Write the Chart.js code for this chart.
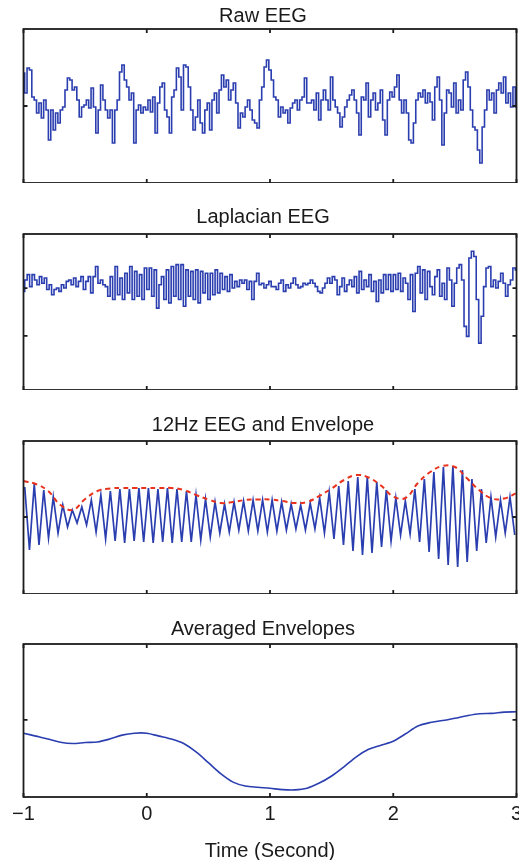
<!DOCTYPE html>
<html>
<head>
<meta charset="utf-8">
<script src="https://cdn.jsdelivr.net/npm/chart.js@4.4.0/dist/chart.umd.min.js"></script>
<style>
    html, body { margin: 0; padding: 0; background: #fff; overflow: hidden; }
    #page { position: relative; width: 519px; height: 860px; }
    .panel { position: absolute; left: 0; width: 519px; }
</style>
</head>
<body>
<div id="page">
    <div class="panel" style="top:4px;height:179px"><canvas id="rawChart"></canvas></div>
    <div class="panel" style="top:205px;height:185px"><canvas id="lapChart"></canvas></div>
    <div class="panel" style="top:413px;height:181px"><canvas id="bandChart"></canvas></div>
    <div class="panel" style="top:617px;height:246px"><canvas id="avgChart"></canvas></div>
</div>

<script>
    // time axis (seconds)
    const timeTicks = [-1, 0, 1, 2, 3];
    const timeStart = -1;
    const timeEnd = 3;

    const rawEeg = [33,13,38,36,9,6,-7,3,-12,6,-4,-34,-4,-24,-7,-17,-4,-1,16,28,
        26,16,19,6,-11,-1,1,6,-2,18,-1,-27,-4,21,6,-4,-12,-4,-37,-4,
        6,34,41,26,19,6,13,-37,-4,1,-7,-1,-4,6,-6,9,-27,3,19,23,
        -4,-11,-27,9,16,38,29,-4,41,39,19,-4,-24,-11,6,-17,-27,-4,3,-24,
        6,13,-7,16,31,19,26,6,16,23,3,-22,-7,-11,-1,6,-4,-14,-17,-22,
        6,19,39,46,36,26,9,6,-11,-1,-7,-4,-17,-2,3,6,-4,6,9,28,
        3,3,6,-4,13,-14,6,16,6,-4,29,6,-1,-7,-21,-11,-1,6,11,16,
        6,-7,-29,9,6,23,-11,6,13,-4,3,16,-14,-29,6,14,9,19,31,6,
        -7,6,-7,-34,-37,-17,6,13,9,16,3,13,4,-14,19,29,6,-39,-7,16,
        13,-1,23,-7,6,-4,26,34,19,-4,-21,-24,-44,-57,-21,-4,16,6,13,-7,
        16,23,13,29,3,13,-1,19,-1];
    const rawTicksY = [0];

    // Laplacian EEG
    const lapEeg = [-0.7,1.7,2.8,0.3,2.8,1.7,0.7,2.4,1.0,2.1,
        -0.3,0.7,-1.4,-0.3,0,-0.7,0.7,0,1.4,1.7,
        0.7,2.1,0.3,1.4,2.4,-0.3,1.4,2.4,-1.0,2.4,
        4.5,1.0,1.7,0.7,0.3,-1.7,2.4,-2.4,4.5,-1.4,
        2.1,-2.4,3.1,-1.0,4.5,-2.4,3.5,-1.7,2.8,-2.4,
        4.2,-0.3,4.2,-1.7,3.8,-4.2,0.7,2.4,-2.4,3.8,
        -3.1,4.5,-1.7,4.9,-2.4,4.9,-3.8,3.8,-1.7,3.5,
        -2.4,3.8,-3.1,3.5,-1.0,3.1,-2.4,3.1,-1.4,3.8,
        -1.0,3.1,-0.3,2.4,-0.7,2.8,0,1.4,0.3,1.7,
        1.0,1.7,-0.3,1.4,-2.4,1.4,3.1,0.7,1.0,0,
        0.7,1.4,0.3,
        0.3,-0.3,1.0,1.7,-0.7,0.7,0,1.0,2.1,0.7,
        0,0.3,1.0,0.7,1.0,1.7,1.0,0.3,-0.7,-1.0,
        0,1.0,2.1,1.0,2.4,1.7,-1.4,0.3,2.1,-0.7,
        0.7,1.7,0.3,2.4,-1.0,3.5,-0.3,1.7,0.3,2.8,
        -0.7,1.4,-2.8,1.7,-1.0,2.8,-0.3,2.8,-0.7,2.8,
        -0.3,3.1,-0.7,2.1,1.0,-2.4,2.8,-4.9,3.1,4.5,
        -1.0,3.8,-2.4,3.5,0.3,-1.4,2.4,3.8,-1.7,1.0,
        -2.4,4.2,1.7,-3.8,1.0,4.2,4.9,1.7,-8.0,-10.1,
        6.3,7.7,6.6,-2.4,-11.5,-5.9,0.3,4.2,
        4.5,0.3,1.7,0,1.4,3.1,1.0,-1.7,0.7,1.7,4.2,3.8];
    const lapTicksY = [0, -10];

    // 12 Hz band: one peak and one trough per cycle
    const bandStart = -0.99;
    const bandHalfPeriod = 0.0386;
    const bandPeaks = [30,33,27,20,12,7,10,17,22,26,28,28,29,29,28,29,28,26,22,18,
        15,13,15,16,17,17,17,15,13,12,14,19,25,31,36,40,40,35,27,19,
        16,28,38,45,50,51,47,38,28,20,17,20];
    const bandTroughs = [-33,-28,-21,-16,-10,-6,-8,-15,-22,-24,-26,-24,-25,-26,-25,-26,-25,-25,-23,-20,
        -16,-15,-13,-14,-14,-15,-14,-13,-12,-13,-12,-16,-22,-28,-34,-38,-36,-30,-24,-18,
        -17,-25,-35,-42,-48,-50,-45,-34,-26,-20,-16,-18];
    // envelope every 0.1 s
    const envelope = [36,33,26,12,7,18,26,28.5,29,29,29,29,29,27,22,17.5,14,15,17,17.5,
        17.5,16,14,15,21,28.5,37,42,39.5,31.5,20.5,19,34,45,51,50,38.5,26.5,18.5,18.5,24];
    const bandTicksY = [0];

    // averaged envelopes every 0.1 s
    const avgEnvelope = [-13.7,-16.7,-19.7,-23,-24.3,-23.3,-22.7,-19.7,-15.7,-13.7,
        -13.7,-16.7,-19.7,-24.3,-33,-44,-55.3,-64,-68,-69.3,
        -70.3,-71.7,-72,-70.3,-65,-57.7,-48.3,-38,-30.3,-26,
        -22,-14.3,-6.3,-2.7,-0.7,1.7,4.3,6.3,6.7,8,8.3];
    const avgTicksY = [0];

    const blue = '#2b3eb0';
    const red = '#e8321e';
    Chart.defaults.font.family = '"Liberation Sans", Arial, sans-serif';
    Chart.defaults.color = '#1a1a1a';

    // evenly spread samples across the window
    function spread(values) {
        const n = values.length;
        return values.map((v, i) => ({ x: timeStart + (timeEnd - timeStart) * i / (n - 1), y: v }));
    }

    function bandPoints() {
        const pts = [];
        bandPeaks.forEach((p, k) => {
            pts.push({ x: bandStart + 2 * k * bandHalfPeriod, y: p });
            pts.push({ x: bandStart + (2 * k + 1) * bandHalfPeriod, y: bandTroughs[k] });
        });
        return pts;
    }

    // box round the plot with MATLAB style inner ticks
    const frameBox = {
        id: 'frameBox',
        afterDatasetsDraw(chart, args, opts) {
            const { ctx, chartArea: a, scales: { x, y } } = chart;
            ctx.save();
            ctx.strokeStyle = '#1c1c1c';
            ctx.lineWidth = 1.8;
            ctx.strokeRect(a.left, a.top, a.right - a.left, a.bottom - a.top);
            ctx.beginPath();
            timeTicks.forEach(t => {
                const px = x.getPixelForValue(t);
                ctx.moveTo(px, a.top); ctx.lineTo(px, a.top + 4);
                ctx.moveTo(px, a.bottom); ctx.lineTo(px, a.bottom - 4);
            });
            (opts.yTicks || []).forEach(v => {
                const py = y.getPixelForValue(v);
                ctx.moveTo(a.left, py); ctx.lineTo(a.left + 4, py);
                ctx.moveTo(a.right, py); ctx.lineTo(a.right - 4, py);
            });
            ctx.stroke();
            ctx.restore();
        }
    };

    function makePanel(id, title, gap, datasets, yMin, yMax, yTicks, showTime) {
        const xScale = {
            type: 'linear', min: timeStart, max: timeEnd,
            display: showTime,
            afterBuildTicks: s => { s.ticks = timeTicks.map(v => ({ value: v })); },
            afterFit: s => { s.paddingLeft = 0; s.paddingRight = 0; },
            grid: { display: false, drawTicks: false },
            border: { display: false },
            ticks: {
                padding: 5,
                font: { size: 20 },
                maxRotation: 0,
                callback: v => v < 0 ? '\u2212' + Math.abs(v) : String(v)
            },
            title: { display: true, text: 'Time (Second)', font: { size: 20 }, padding: { top: 8, bottom: 0 } }
        };
        return new Chart(document.getElementById(id), {
            type: 'line',
            data: { datasets: datasets },
            options: {
                responsive: true,
                maintainAspectRatio: false,
                animation: false,
                devicePixelRatio: 1,
                events: [],
                layout: { padding: { left: 9.5, right: 2.5, top: 0, bottom: 0 } },
                scales: {
                    x: xScale,
                    y: {
                        type: 'linear', min: yMin, max: yMax,
                        ticks: { display: false },
                        grid: { display: false },
                        border: { display: false },
                        afterFit: s => { s.width = 14; }
                    }
                },
                plugins: {
                    legend: { display: false },
                    tooltip: { enabled: false },
                    title: {
                        display: true, text: title,
                        font: { size: 20, weight: 'normal' },
                        padding: { top: 0, bottom: gap }
                    },
                    frameBox: { yTicks: yTicks }
                }
            },
            plugins: [frameBox]
        });
    }

    function trace(points, color, extra) {
        return Object.assign({
            data: points, borderColor: color, borderWidth: 1.6,
            pointRadius: 0, fill: false, tension: 0
        }, extra || {});
    }

    makePanel('rawChart', 'Raw EEG', 1,
        [trace(spread(rawEeg), blue, { stepped: 'middle' })], -77, 77, rawTicksY, false);

    makePanel('lapChart', 'Laplacian EEG', 5,
        [trace(spread(lapEeg), blue, { stepped: 'middle' })], -21.3, 11.3, lapTicksY, false);

    // envelope drawn on top of the band signal
    makePanel('bandChart', '12Hz EEG and Envelope', 4, [
        trace(bandPoints(), blue, { borderWidth: 1.7, order: 2 }),
        trace(spread(envelope), red, { borderWidth: 2, borderDash: [5, 4], tension: 0.4, order: 1 })
    ], -77, 76, bandTicksY, false);

    makePanel('avgChart', 'Averaged Envelopes', 3,
        [trace(spread(avgEnvelope), blue, { borderWidth: 1.6, tension: 0.3 })], -79.3, 78, avgTicksY, true);
</script>
</body>
</html>
